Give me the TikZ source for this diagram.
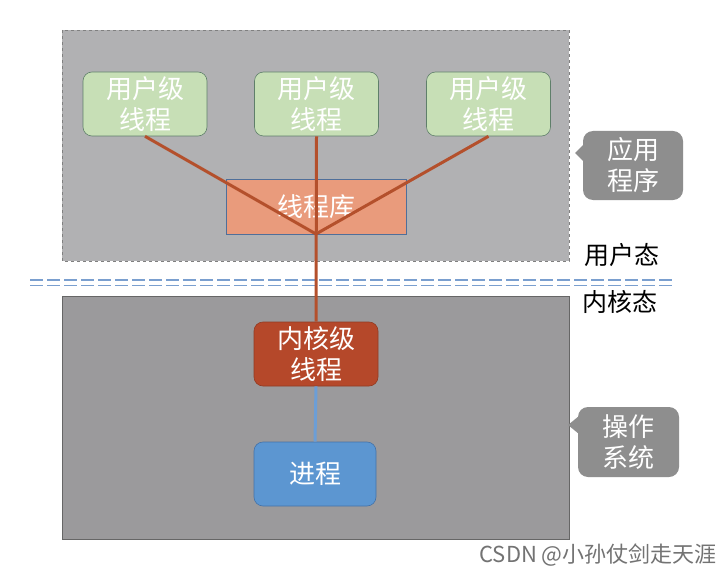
\documentclass[tikz,border=0pt]{standalone}
\usepackage{fontspec}
\setmainfont{Noto Sans CJK SC}
\definecolor{topgray}{HTML}{B1B1B3}
\definecolor{botgray}{HTML}{9B9A9C}
\definecolor{ugreen}{HTML}{C7DFB6}
\definecolor{ugreenb}{HTML}{5F7F6A}
\definecolor{libfill}{HTML}{E99B7C}
\definecolor{libborder}{HTML}{4F6F9A}
\definecolor{linkred}{HTML}{B4502C}
\definecolor{kfill}{HTML}{B5482A}
\definecolor{pfill}{HTML}{5C96D1}
\definecolor{pborder}{HTML}{4472A8}
\definecolor{bline}{HTML}{6C9ED6}
\definecolor{callgray}{HTML}{8E8E8E}
\definecolor{dashblue}{HTML}{7A9FCF}
\begin{document}
\begin{tikzpicture}[x=1pt,y=-1pt,
  txt/.style={text=white,font=\fontsize{26}{31}\selectfont,align=center},
  ubox/.style={txt,draw=ugreenb,fill=ugreen,rounded corners=9pt,minimum width=124pt,minimum height=64pt,inner sep=0pt,line width=0.6pt},
  kbox/.style={txt,draw=kfill!80!black,fill=kfill,rounded corners=9pt,minimum width=124pt,minimum height=64pt,inner sep=0pt,line width=0.6pt},
  pbox/.style={txt,draw=pborder,fill=pfill,rounded corners=9pt,minimum width=122pt,minimum height=64pt,inner sep=0pt,line width=0.6pt},
  link/.style={draw=linkred,line width=3pt},
  callout/.style={txt,fill=callgray,rounded corners=10pt,minimum width=100pt,minimum height=69pt,inner sep=0pt},
  lbl/.style={text=black,font=\fontsize{25}{30}\selectfont}
]
\useasboundingbox (0,0) rectangle (722,580);
\fill[white] (0,0) rectangle (722,580);
% regions
\draw[fill=topgray,draw=gray,dashed,line width=0.5pt] (62,30) rectangle (569,261);
\draw[fill=botgray,draw=black!60,line width=0.8pt] (62,296) rectangle (569,539);
% double dashed separator
\draw[dashblue,line width=1.8pt,dash pattern=on 13pt off 4pt] (30,280) -- (672,280);
\draw[dashblue,line width=1.8pt,dash pattern=on 13pt off 4pt] (30,285.5) -- (672,285.5);
% library
\node[txt,draw=libborder,fill=libfill,minimum width=180pt,minimum height=55pt,inner sep=0pt,line width=0.6pt] (lib) at (316,207) {线程库};
\coordinate (hub) at (316,234);
% user threads
\node[ubox] (u1) at (145,104) {用户级\\线程};
\node[ubox] (u2) at (316.5,104) {用户级\\线程};
\node[ubox] (u3) at (488.5,104) {用户级\\线程};
% kernel thread and process
\node[kbox] (k) at (316,354) {内核级\\线程};
\node[pbox] (p) at (315,474) {进程};
% links
\draw[link] (u1.south) -- (hub);
\draw[link] (u3.south) -- (hub);
\draw[link] (u2.south) -- (k.north);
\draw[bline,line width=3pt] (k.south) -- (p.north);
% callouts
\node[callout] (c1) at (633,165.5) {应用\\程序};
\fill[callgray] (575,153) -- (584,144) -- (584,162) -- cycle;
\node[callout,minimum width=101pt,minimum height=70pt] (c2) at (628.5,442) {操作\\系统};
\fill[callgray] (568,425) -- (579,416) -- (579,434) -- cycle;
% state labels
\node[lbl] (us) at (622,255) {用户态};
\node[lbl] (ks) at (620,302) {内核态};
% watermark
\node[anchor=east,text=black!55,font=\fontsize{22}{26}\selectfont,inner sep=0pt] (wm) at (717,555) {CSDN @小孙仗剑走天涯};
\end{tikzpicture}
\end{document}
